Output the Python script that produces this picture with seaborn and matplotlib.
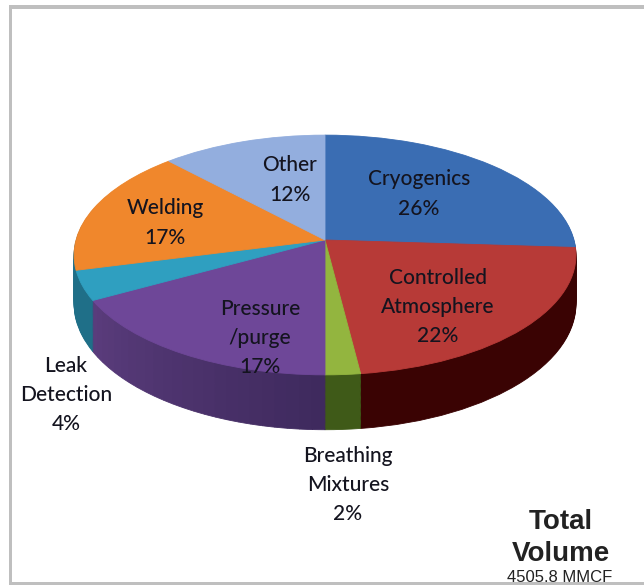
import matplotlib
matplotlib.use("Agg")
import matplotlib.pyplot as plt
import matplotlib.transforms as mtransforms
from matplotlib.patches import Rectangle
import numpy as np
import seaborn as sns

sns.set_theme(style="white")
plt.rcParams['font.family'] = ['Lato', 'DejaVu Sans']

categories = ["Cryogenics", "Controlled\nAtmosphere", "Breathing\nMixtures",
              "Pressure\n/purge", "Leak\nDetection", "Welding", "Other"]
values = [26, 22, 2, 17, 4, 17, 12]
top_colors = ["#3a6db3", "#b73a37", "#93b53f", "#6e4798", "#2f9fc0", "#f0872c", "#93aede"]
side_colors = ["#25487a", "#3a0303", "#3f5a18", "#472e6b", "#1f6f88", "#1f6f88", "#6a80a8"]
label_x = [419, 438, 348, 260, 66, 165, 290]
label_y = [194, 307, 485, 338, 395, 223, 180]

# pie seen from above, far side is narrower
CX, CY = 325, 240
RX, RY, TILT = 249, 118, 0.125
DEPTH = 48
PURPLE_STEPS = 24


class Tilted(mtransforms.Transform):
    input_dims = 2
    output_dims = 2

    def __init__(self, z=0):
        super().__init__()
        self.z = z

    def transform_non_affine(self, values):
        xy = np.asarray(values, dtype=float)
        w = 1 + TILT * xy[:, 1]
        return np.column_stack([CX + RX * xy[:, 0] / w,
                                CY - (RY * xy[:, 1] - self.z) / w])


fig, ax = plt.subplots(figsize=(6.44, 5.86), dpi=100)
fig.subplots_adjust(0, 0, 1, 1)


def draw_layer(vals, colors, z):
    wedges, _ = ax.pie(vals, colors=colors, startangle=90, counterclock=False,
                       wedgeprops=dict(linewidth=0.6))
    for wedge, c in zip(wedges, colors):
        wedge.set_edgecolor(c)
        wedge.set_transform(Tilted(z) + ax.transData)


# the purple wall gets lighter towards the left
wall_vals = values[:3] + [values[3] / PURPLE_STEPS] * PURPLE_STEPS + values[4:]
purple = sns.blend_palette(["#3f2a5e", "#5a3c7c"], PURPLE_STEPS)
wall_colors = sns.color_palette(side_colors[:3]) + list(purple) + sns.color_palette(side_colors[4:])

for z in range(DEPTH, 0, -1):
    draw_layer(wall_vals, wall_colors, z)
draw_layer(values, sns.color_palette(top_colors), 0)

ax.set_aspect('auto')
ax.set_xlim(0, 644)
ax.set_ylim(586, 0)
ax.axis('off')

for name, v, x, y in zip(categories, values, label_x, label_y):
    ax.text(x, y, f"{name}\n{v}%", ha='center', va='center', fontsize=15, fontweight='medium',
            color="#14141f", linespacing=1.57, zorder=5)

ax.text(561, 538, "Total\nVolume", ha='center', va='center', fontsize=20, fontweight='bold',
        family='Liberation Sans', color="#222222", linespacing=1.32, zorder=5)
ax.text(560, 578, "4505.8 MMCF", ha='center', va='center', fontsize=12,
        family='Liberation Sans', color="#222222", zorder=5)

# picture frame, the bottom edge cuts the last line
border = "#bfbfbf"
ax.add_patch(Rectangle((9, 5), 635, 3.5, color=border, lw=0, zorder=6))
ax.add_patch(Rectangle((9, 5), 3.5, 580, color=border, lw=0, zorder=6))
ax.add_patch(Rectangle((9, 582), 635, 3, color=border, lw=0, zorder=6))
ax.add_patch(Rectangle((0, 585), 644, 1, color="white", lw=0, zorder=6))

fig.savefig("out.png", dpi=100)
